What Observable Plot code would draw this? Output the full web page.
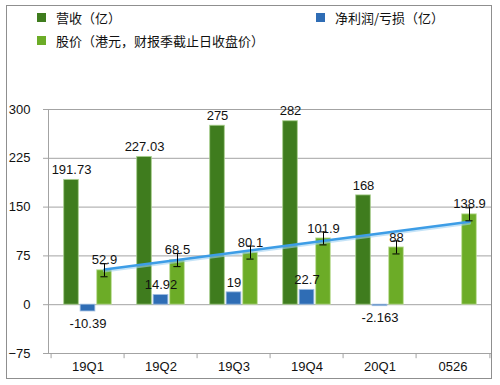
<!DOCTYPE html>
<html>
<head>
<meta charset="utf-8">
<script src="https://cdn.jsdelivr.net/npm/d3@7"></script>
<script src="https://cdn.jsdelivr.net/npm/@observablehq/plot@0.6"></script>
<style>
  html, body { margin: 0; padding: 0; background: #fff; }
  #wrap { position: relative; width: 500px; height: 385px; overflow: hidden; font-family: "Liberation Sans", "Noto Sans CJK SC", sans-serif; }
  #frame { position: absolute; left: 6px; top: 5px; width: 486px; height: 374px; box-sizing: border-box; border: 1.5px solid #8f8f8f; }
  .lg { position: absolute; display: flex; align-items: center; font-size: 13px; color: #111; font-family: "Noto Sans CJK SC", sans-serif; white-space: nowrap; }
  .sw { width: 9px; height: 9px; margin-right: 10px; }
  #chart { position: absolute; left: 0; top: 60px; }
</style>
</head>
<body>
<div id="wrap">
  <div id="frame"></div>
  <div id="legend"></div>
  <div id="chart"></div>
</div>
<script>
// ---- data ----
const categories = ["19Q1", "19Q2", "19Q3", "19Q4", "20Q1", "0526"];
const revenue = [191.73, 227.03, 275, 282, 168, null];          // 营收（亿）
const profit = [-10.39, 14.92, 19, 22.7, -2.163, null];         // 净利润/亏损（亿）
const price = [52.9, 68.5, 80.1, 101.9, 88, 138.9];             // 股价（港元）
const priceErr = [10, 10, 10, 10, 10, 10];
const trendCats = ["19Q1", "0526"];
const trendVals = [54, 127.5];
const yTicks = [-75, 0, 75, 150, 225, 300];
const seriesNames = ["营收（亿）", "净利润/亏损（亿）", "股价（港元，财报季截止日收盘价）"];
const colors = ["#3f7c1e", "#2f6db5", "#6cac27"];

// ---- legend ----
const legendPos = [[37, 17], [316, 17], [37, 40]];
const legend = document.getElementById("legend");
seriesNames.forEach((n, i) => {
  const d = document.createElement("div");
  d.className = "lg";
  d.style.left = legendPos[i][0] + "px";
  d.style.top = (legendPos[i][1] - 9) + "px";
  d.style.height = "18px";
  d.innerHTML = `<span class="sw" style="background:${colors[i]}"></span><span>${n}</span>`;
  legend.appendChild(d);
});

// ---- chart ----
const revData = categories.map((c, i) => ({c, v: revenue[i]})).filter(d => d.v != null);
const profData = categories.map((c, i) => ({c, v: profit[i]})).filter(d => d.v != null);
const priceData = categories.map((c, i) => ({c, v: price[i], e: priceErr[i]}));
const trendData = trendCats.map((c, i) => ({c, v: trendVals[i]}));

const W = 500, H = 320, mL = 48, mR = 9, mT = 49, mB = 27;
const bw = (W - mL - mR) / categories.length;
const barW = 15.5;
const inset = (bw - barW) / 2;
const capInset = (bw - 8) / 2;
const off = 16.5;
const fnt = 13;

const chart = Plot.plot({
  width: W, height: H,
  marginLeft: mL, marginRight: mR, marginTop: mT, marginBottom: mB,
  style: {fontFamily: "Liberation Sans, sans-serif", fontSize: fnt + "px", color: "#111", background: "transparent"},
  x: {domain: categories, padding: 0, label: null},
  y: {domain: [-75, 300], label: null},
  marks: [
    Plot.gridY(yTicks, {stroke: "#a3a3a3", strokeOpacity: 1, strokeWidth: 1}),
    Plot.frame({anchor: "left", stroke: "#a3a3a3", strokeWidth: 1}),
    Plot.ruleX(categories, {x: d => d, dx: -bw / 2, y1: -75, y2: -83, stroke: "#a3a3a3"}),
    Plot.ruleX([categories[categories.length - 1]], {x: d => d, dx: bw / 2, y1: -75, y2: -83, stroke: "#a3a3a3"}),
    Plot.axisY(yTicks, {tickSize: 5, tickPadding: 13, stroke: "#a3a3a3", fontSize: fnt, fill: "#111"}),
    Plot.axisX({tickSize: 0, tickPadding: 8, fontSize: fnt, fill: "#111"}),
    Plot.barY(revData, {x: "c", y: "v", fill: colors[0], insetLeft: inset, insetRight: inset, dx: -off, stroke: "#a8cf8c", strokeWidth: 1, strokeOpacity: 0.8}),
    Plot.barY(profData, {x: "c", y: "v", fill: colors[1], insetLeft: inset, insetRight: inset, stroke: "#9dbde3", strokeWidth: 1, strokeOpacity: 0.8}),
    Plot.barY(priceData, {x: "c", y: "v", fill: colors[2], insetLeft: inset, insetRight: inset, dx: off, stroke: "#c2e09f", strokeWidth: 1, strokeOpacity: 0.8}),
    // trend line with soft shadow
    Plot.line(trendData, {x: "c", y: "v", dx: off, dy: 1.5, stroke: "#9fd0f2", strokeWidth: 3, strokeOpacity: 0.6}),
    Plot.line(trendData, {x: "c", y: "v", dx: off, stroke: "#3d9de6", strokeWidth: 2.5}),
    // error bars
    Plot.ruleX(priceData, {x: "c", y1: d => d.v - d.e, y2: d => d.v + d.e, dx: off, stroke: "#000", strokeWidth: 1}),
    Plot.tickY(priceData, {x: "c", y: d => d.v - d.e, dx: off, insetLeft: capInset, insetRight: capInset, stroke: "#000", strokeWidth: 1}),
    Plot.tickY(priceData, {x: "c", y: d => d.v + d.e, dx: off, insetLeft: capInset, insetRight: capInset, stroke: "#000", strokeWidth: 1}),
    // labels
    Plot.text(revData, {x: "c", y: "v", text: d => String(d.v), dx: -off, dy: -10, fill: "#111", fontSize: fnt}),
    Plot.text(profData.filter(d => d.v >= 0), {x: "c", y: "v", text: d => String(d.v), dy: -10, fill: "#111", fontSize: fnt}),
    Plot.text(profData.filter(d => d.v < 0), {x: "c", y: "v", text: d => String(d.v), dy: 12, fill: "#111", fontSize: fnt}),
    Plot.text(priceData, {x: "c", y: "v", text: d => String(d.v), dx: off, dy: -10, fill: "#111", fontSize: fnt})
  ]
});
document.getElementById("chart").appendChild(chart);
</script>
</body>
</html>
